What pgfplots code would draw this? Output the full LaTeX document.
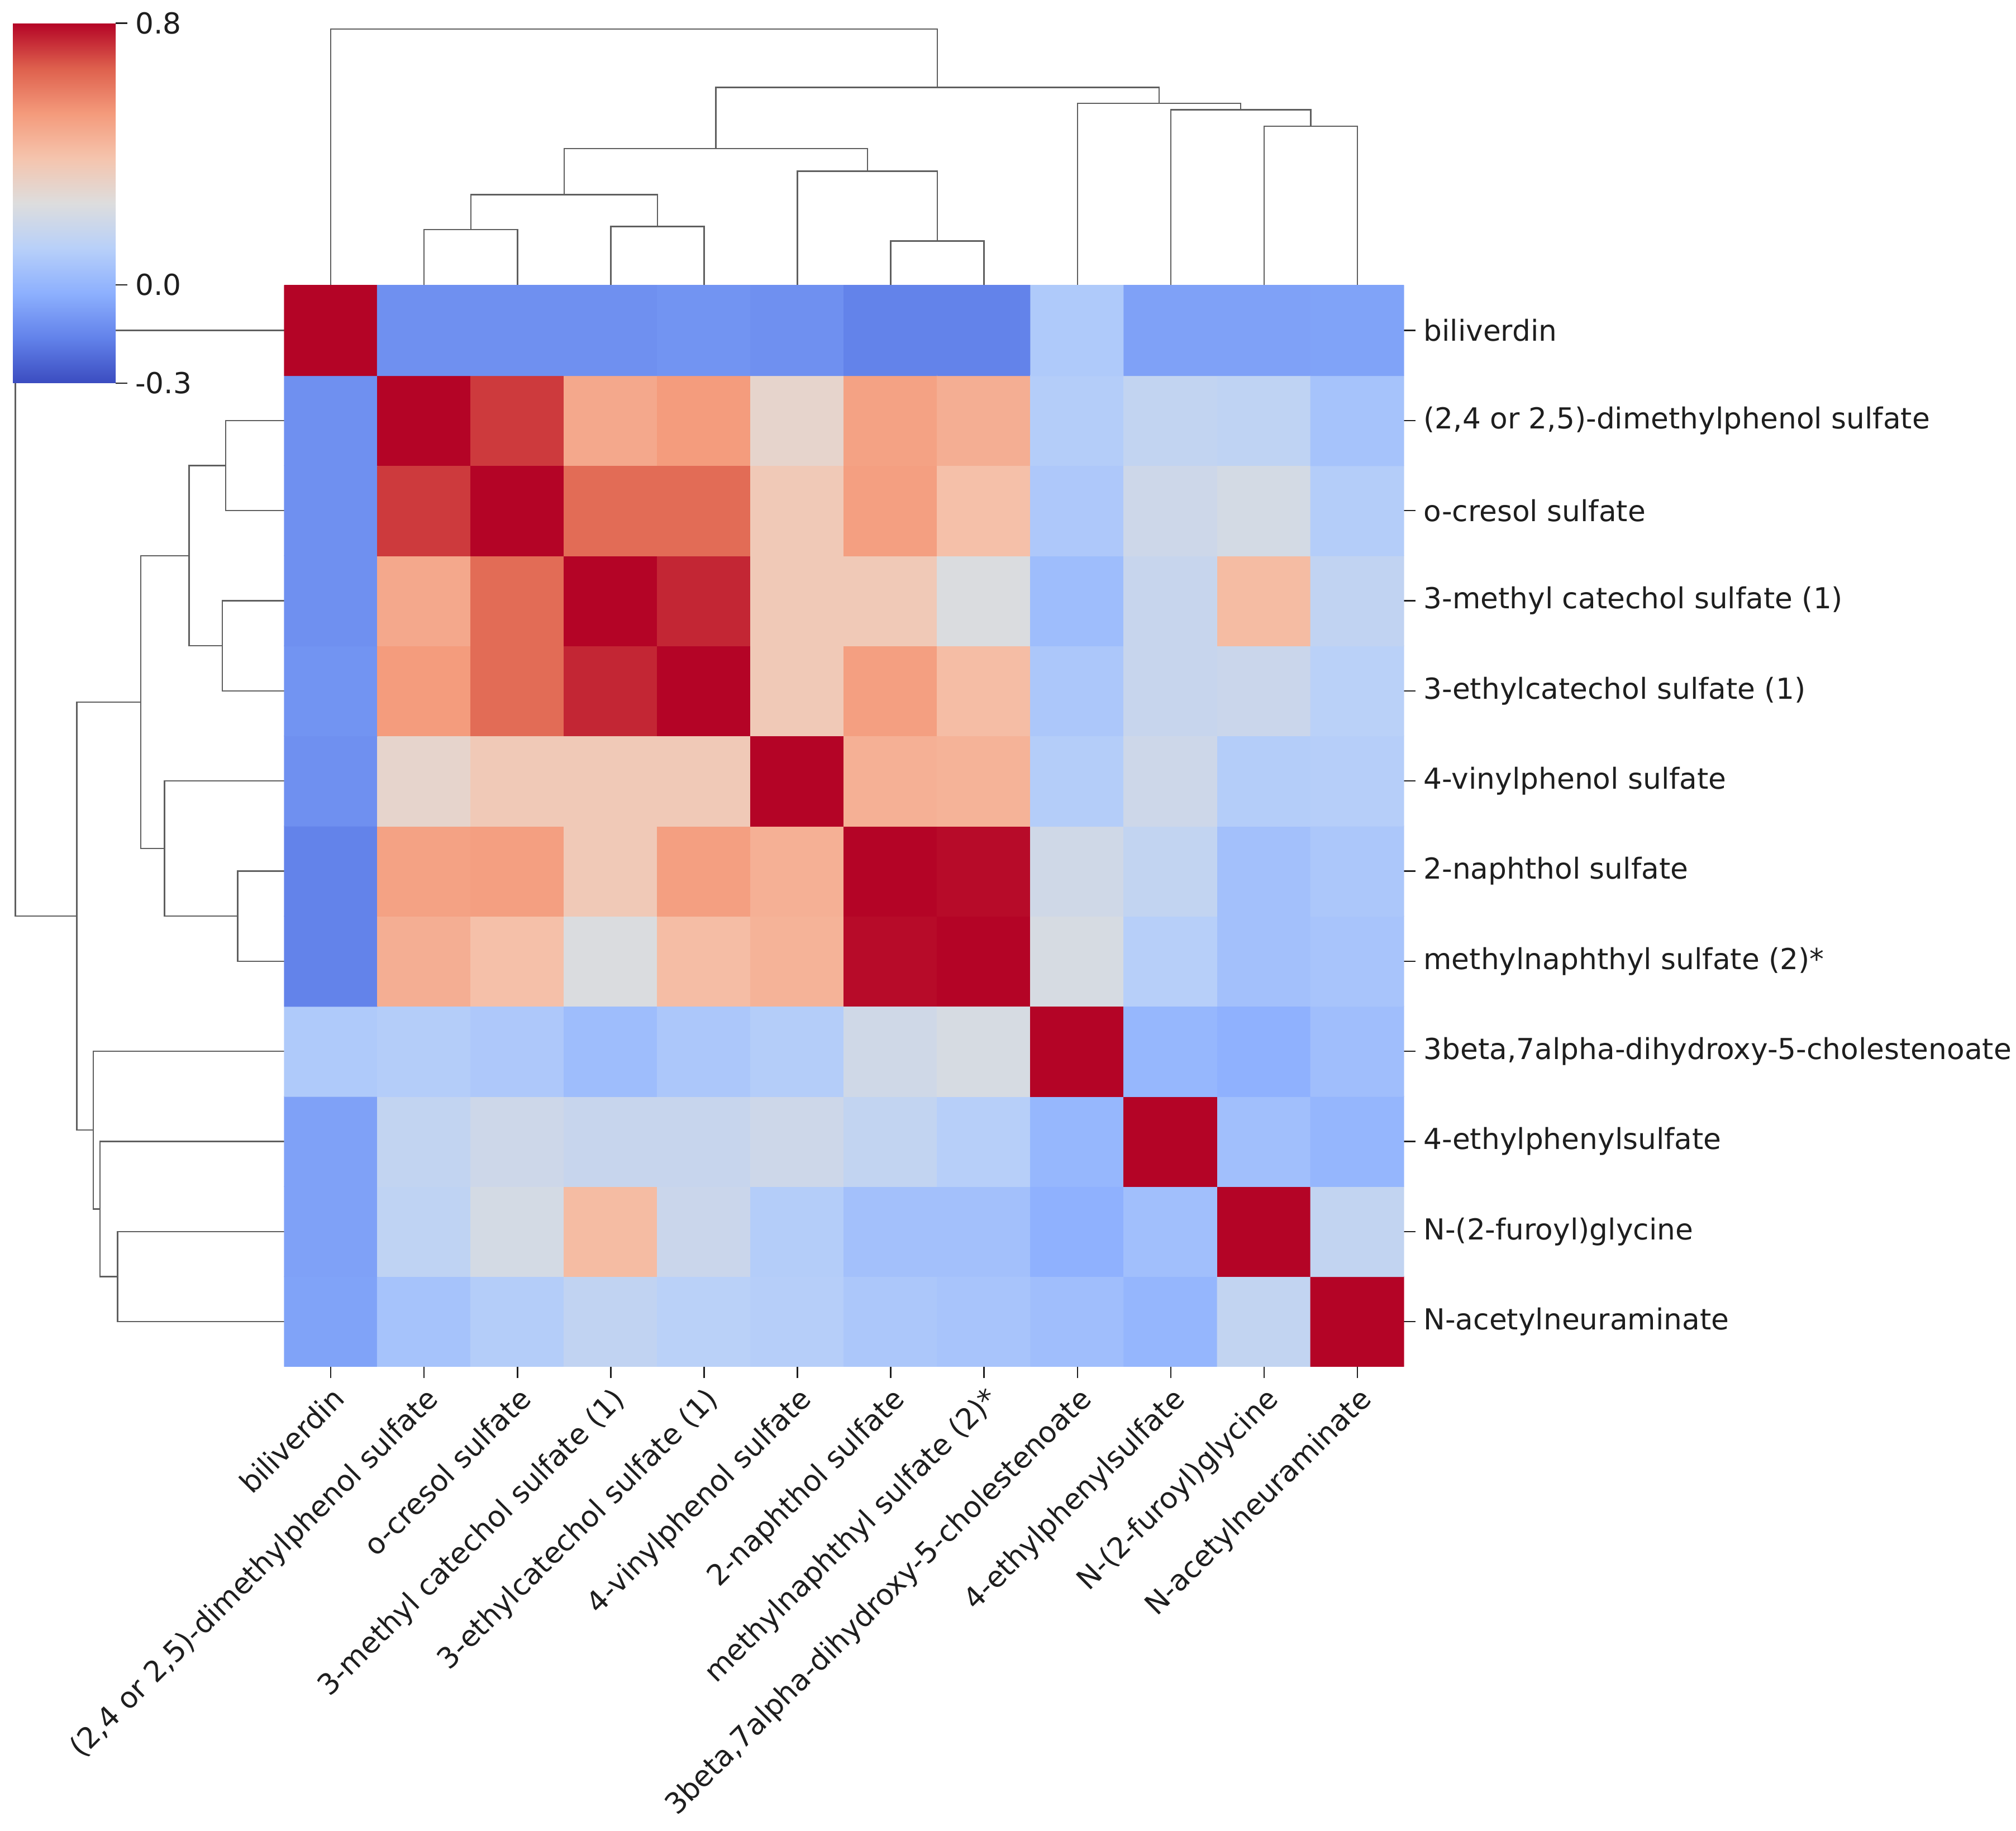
\documentclass[border=0pt]{standalone}
\usepackage{fontspec}
\setmainfont{DejaVu Sans}
\usepackage{pgfplots}
\pgfplotsset{compat=1.18}
\definecolor{dendro}{RGB}{95,95,95}
\definecolor{txt}{RGB}{30,30,30}
\pgfplotsset{
  colormap={coolwarm}{rgb255=(59,76,192) rgb255=(98,130,234) rgb255=(141,176,254)
    rgb255=(184,208,249) rgb255=(221,221,221) rgb255=(245,196,173)
    rgb255=(244,154,123) rgb255=(222,96,77) rgb255=(180,4,38)},
  dendro/.style={no markers, color=dendro, line width=0.6pt},
}
\newcommand{\lblfont}{\fontsize{12.8}{14}\selectfont}

\begin{document}
\begin{tikzpicture}
\useasboundingbox (0,0) rectangle (31.36cm,28.48cm);

% left dendrogram (rows)
\begin{axis}[at={(0.24cm,7.22cm)}, anchor=south west, scale only axis,
  width=4.18cm, height=16.82cm, xmin=0, xmax=1, x dir=reverse,
  ymin=-0.5, ymax=11.5, y dir=reverse, hide axis, clip=false]
  \addplot[dendro] coordinates {(0,1) (0.218,1) (0.218,2) (0,2)};
  \addplot[dendro] coordinates {(0,3) (0.23,3) (0.23,4) (0,4)};
  \addplot[dendro] coordinates {(0,6) (0.173,6) (0.173,7) (0,7)};
  \addplot[dendro] coordinates {(0.218,1.5) (0.354,1.5) (0.354,3.5) (0.23,3.5)};
  \addplot[dendro] coordinates {(0,5) (0.445,5) (0.445,6.5) (0.173,6.5)};
  \addplot[dendro] coordinates {(0.354,2.5) (0.533,2.5) (0.533,5.75) (0.445,5.75)};
  \addplot[dendro] coordinates {(0,10) (0.62,10) (0.62,11) (0,11)};
  \addplot[dendro] coordinates {(0,9) (0.685,9) (0.685,10.5) (0.62,10.5)};
  \addplot[dendro] coordinates {(0,8) (0.71,8) (0.71,9.75) (0.685,9.75)};
  \addplot[dendro] coordinates {(0.533,4.125) (0.772,4.125) (0.772,8.875) (0.71,8.875)};
  \addplot[dendro] coordinates {(0,0) (1,0) (1,6.5) (0.772,6.5)};
\end{axis}

% top dendrogram (columns)
\begin{axis}[at={(4.42cm,24.04cm)}, anchor=south west, scale only axis,
  width=17.42cm, height=3.99cm, xmin=-0.5, xmax=11.5, ymin=0, ymax=1,
  hide axis, clip=false]
  \addplot[dendro] coordinates {(1,0) (1,0.218) (2,0.218) (2,0)};
  \addplot[dendro] coordinates {(3,0) (3,0.23) (4,0.23) (4,0)};
  \addplot[dendro] coordinates {(6,0) (6,0.173) (7,0.173) (7,0)};
  \addplot[dendro] coordinates {(1.5,0.218) (1.5,0.354) (3.5,0.354) (3.5,0.23)};
  \addplot[dendro] coordinates {(5,0) (5,0.445) (6.5,0.445) (6.5,0.173)};
  \addplot[dendro] coordinates {(2.5,0.354) (2.5,0.533) (5.75,0.533) (5.75,0.445)};
  \addplot[dendro] coordinates {(10,0) (10,0.62) (11,0.62) (11,0)};
  \addplot[dendro] coordinates {(9,0) (9,0.685) (10.5,0.685) (10.5,0.62)};
  \addplot[dendro] coordinates {(8,0) (8,0.71) (9.75,0.71) (9.75,0.685)};
  \addplot[dendro] coordinates {(4.125,0.533) (4.125,0.772) (8.875,0.772) (8.875,0.71)};
  \addplot[dendro] coordinates {(0,0) (0,1) (6.5,1) (6.5,0.772)};
\end{axis}

% heatmap
\begin{axis}[at={(4.42cm,7.22cm)}, anchor=south west, scale only axis,
  width=17.42cm, height=16.82cm,
  xmin=-0.5, xmax=11.5, ymin=-0.5, ymax=11.5, enlargelimits=false,
  axis line style={draw=none},
  tick align=outside, major tick length=0.18cm,
  tick style={color=txt, line width=0.6pt},
  xtick={0,...,11}, ytick={0,...,11},
  xtick pos=bottom, ytick pos=right, yticklabel pos=right,
  tick label style={font=\lblfont, text=txt},
  xticklabel style={rotate=45, anchor=north east, inner sep=2pt},
  yticklabel style={anchor=west},
  xticklabels={biliverdin, {(2,4 or 2,5)-dimethylphenol sulfate}, o-cresol sulfate,
    3-methyl catechol sulfate (1), 3-ethylcatechol sulfate (1), 4-vinylphenol sulfate,
    2-naphthol sulfate, methylnaphthyl sulfate (2)*,
    {3beta,7alpha-dihydroxy-5-cholestenoate}, 4-ethylphenylsulfate,
    N-(2-furoyl)glycine, N-acetylneuraminate},
  yticklabels={N-acetylneuraminate, N-(2-furoyl)glycine, 4-ethylphenylsulfate,
    {3beta,7alpha-dihydroxy-5-cholestenoate}, methylnaphthyl sulfate (2)*,
    2-naphthol sulfate, 4-vinylphenol sulfate, 3-ethylcatechol sulfate (1),
    3-methyl catechol sulfate (1), o-cresol sulfate,
    {(2,4 or 2,5)-dimethylphenol sulfate}, biliverdin},
  colormap name=coolwarm, point meta min=-0.3, point meta max=0.8,
  colorbar, colorbar shift/.style={}, colorbar/width=1.6cm,
  colorbar style={at={(parent axis.north west)}, anchor=north west,
    xshift=-4.22cm, yshift=4.08cm, scale only axis, height=5.6cm,
    axis line style={draw=none}, tick align=outside, major tick length=0.18cm,
    tick style={color=txt, line width=0.6pt},
    ytick={-0.3,0,0.8}, yticklabels={-0.3,0.0,0.8},
    ytick pos=right, yticklabel pos=right,
    yticklabel style={font=\lblfont, text=txt, anchor=west}},
]
\addplot[matrix plot*, mesh/cols=12, point meta=explicit] coordinates {
(0,0) [-0.065] (1,0) [0.055] (2,0) [0.10] (3,0) [0.145] (4,0) [0.12] (5,0) [0.105] (6,0) [0.075] (7,0) [0.06] (8,0) [0.035] (9,0) [0.0] (10,0) [0.15] (11,0) [1]
(0,1) [-0.07] (1,1) [0.14] (2,1) [0.215] (3,1) [0.415] (4,1) [0.18] (5,1) [0.10] (6,1) [0.045] (7,1) [0.045] (8,1) [-0.02] (9,1) [0.04] (10,1) [1] (11,1) [0.15]
(0,2) [-0.07] (1,2) [0.15] (2,2) [0.19] (3,2) [0.17] (4,2) [0.17] (5,2) [0.19] (6,2) [0.15] (7,2) [0.11] (8,2) [0.005] (9,2) [1] (10,2) [0.04] (11,2) [0.0]
(0,3) [0.085] (1,3) [0.10] (2,3) [0.08] (3,3) [0.03] (4,3) [0.075] (5,3) [0.10] (6,3) [0.20] (7,3) [0.225] (8,3) [1] (9,3) [0.005] (10,3) [-0.02] (11,3) [0.035]
(0,4) [-0.16] (1,4) [0.46] (2,4) [0.40] (3,4) [0.24] (4,4) [0.41] (5,4) [0.445] (6,4) [0.79] (7,4) [1] (8,4) [0.225] (9,4) [0.11] (10,4) [0.045] (11,4) [0.06]
(0,5) [-0.16] (1,5) [0.50] (2,5) [0.51] (3,5) [0.36] (4,5) [0.51] (5,5) [0.455] (6,5) [1] (7,5) [0.79] (8,5) [0.20] (9,5) [0.15] (10,5) [0.045] (11,5) [0.075]
(0,6) [-0.12] (1,6) [0.30] (2,6) [0.36] (3,6) [0.36] (4,6) [0.36] (5,6) [1] (6,6) [0.455] (7,6) [0.445] (8,6) [0.10] (9,6) [0.19] (10,6) [0.10] (11,6) [0.105]
(0,7) [-0.11] (1,7) [0.52] (2,7) [0.635] (3,7) [0.75] (4,7) [1] (5,7) [0.36] (6,7) [0.51] (7,7) [0.41] (8,7) [0.075] (9,7) [0.17] (10,7) [0.18] (11,7) [0.12]
(0,8) [-0.12] (1,8) [0.48] (2,8) [0.635] (3,8) [1] (4,8) [0.75] (5,8) [0.36] (6,8) [0.36] (7,8) [0.24] (8,8) [0.03] (9,8) [0.17] (10,8) [0.415] (11,8) [0.145]
(0,9) [-0.12] (1,9) [0.72] (2,9) [1] (3,9) [0.635] (4,9) [0.635] (5,9) [0.36] (6,9) [0.51] (7,9) [0.40] (8,9) [0.08] (9,9) [0.19] (10,9) [0.215] (11,9) [0.10]
(0,10) [-0.12] (1,10) [1] (2,10) [0.72] (3,10) [0.48] (4,10) [0.52] (5,10) [0.30] (6,10) [0.50] (7,10) [0.46] (8,10) [0.10] (9,10) [0.15] (10,10) [0.14] (11,10) [0.055]
(0,11) [1] (1,11) [-0.12] (2,11) [-0.12] (3,11) [-0.12] (4,11) [-0.11] (5,11) [-0.12] (6,11) [-0.16] (7,11) [-0.16] (8,11) [0.085] (9,11) [-0.07] (10,11) [-0.07] (11,11) [-0.065]
};
\end{axis}
\end{tikzpicture}
\end{document}
